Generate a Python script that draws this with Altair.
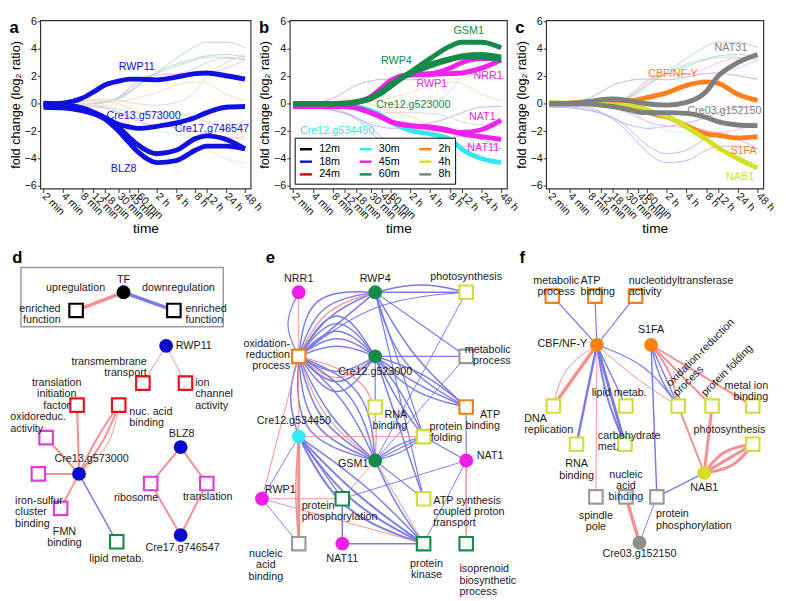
import altair as alt
import pandas as pd

# ---------------- time-course data (panels a-c) ----------------
TIMES = [2, 4, 8, 12, 18, 30, 45, 60, 120, 240, 480, 720, 1440, 2880]
TIME_LABELS = ["2 min", "4 min", "8 min", "12 min", "18 min", "30 min", "45 min",
               "60 min", "2 h", "4 h", "8 h", "12 h", "24 h", "48 h"]

CLUSTERS = ["12m", "18m", "24m", "30m", "45m", "60m", "2h", "4h", "8h"]
CLUSTER_COLORS = ["#000000", "#1010e0", "#e30000", "#36e7ef", "#f023ea", "#178a4b",
                  "#ff7f1e", "#d4e026", "#7f7f7f"]

GENE_NAMES = ["RWP11", "Cre13.g573000", "Cre17.g746547", "BLZ8",
              "Cre12.g534450", "RWP1", "NRR1", "NAT1", "NAT11",
              "GSM1", "RWP4", "Cre12.g523000",
              "CBF/NF-Y", "S1FA", "NAB1", "NAT31", "Cre03.g152150"]
GENE_CLUSTER = ["18m", "18m", "18m", "18m", "30m", "45m", "45m", "45m", "45m",
                "60m", "60m", "60m", "2h", "2h", "4h", "8h", "8h"]
GENE_PANEL = ["a"] * 4 + ["b"] * 8 + ["c"] * 5

FC_RWP11 = [0.0, 0.05, 0.4, 0.85, 1.35, 1.65, 1.8, 1.8, 1.75, 1.95, 2.2, 2.25, 2.05, 1.8]
FC_CRE13 = [-0.1, -0.2, -0.45, -0.7, -1.0, -1.5, -1.7, -1.8, -1.65, -1.4, -1.0, -0.65, -0.25, -0.2]
FC_CRE17 = [0.05, -0.05, -0.3, -0.6, -1.0, -1.7, -2.5, -3.0, -3.65, -3.4, -2.55, -2.35, -2.6, -3.3]
FC_BLZ8 = [-0.25, -0.3, -0.5, -0.7, -1.1, -2.0, -2.9, -3.5, -4.3, -4.15, -3.4, -3.1, -3.1, -3.3]
FC_CRE12B = [0.0, 0.0, 0.0, -0.05, -0.2, -0.5, -0.9, -1.3, -1.95, -2.2, -2.6, -3.3, -4.0, -4.3]
FC_RWP1 = [-0.1, -0.1, -0.1, -0.05, 0.1, 0.5, 1.2, 1.7, 2.15, 2.2, 2.6, 3.0, 3.3, 3.3]
FC_NRR1 = [-0.1, -0.1, -0.1, -0.05, 0.1, 0.45, 1.1, 1.6, 2.1, 2.15, 2.2, 2.25, 2.6, 3.2]
FC_NAT1 = [-0.2, -0.2, -0.2, -0.2, -0.3, -0.65, -1.0, -1.3, -1.6, -1.75, -2.0, -2.1, -1.9, -1.2]
FC_NAT11 = [-0.2, -0.2, -0.2, -0.2, -0.3, -0.65, -1.0, -1.3, -1.6, -1.7, -1.95, -2.2, -2.4, -2.6]
FC_GSM1 = [0.0, 0.0, 0.0, 0.0, 0.1, 0.35, 0.8, 1.25, 2.3, 3.3, 4.2, 4.5, 4.5, 4.1]
FC_RWP4 = [0.0, 0.0, 0.0, 0.0, 0.1, 0.4, 0.9, 1.4, 2.3, 2.9, 3.3, 3.5, 3.6, 3.4]
FC_CRE12A = [0.0, 0.0, 0.0, 0.05, 0.15, 0.45, 0.95, 1.4, 2.2, 2.75, 3.2, 3.4, 3.4, 3.2]
FC_CBF = [0.0, 0.05, 0.15, 0.25, 0.25, 0.2, 0.3, 0.45, 0.8, 1.35, 1.6, 1.5, 0.7, 0.25]
FC_S1FA = [0.0, 0.05, 0.15, 0.2, 0.15, 0.0, -0.3, -0.6, -0.95, -1.6, -2.2, -2.3, -2.5, -2.4]
FC_NAB1 = [0.1, 0.05, 0.0, -0.05, -0.1, -0.1, -0.2, -0.45, -0.9, -1.7, -2.6, -3.2, -4.0, -4.7]
FC_NAT31 = [0.0, 0.0, 0.15, 0.3, 0.35, 0.25, 0.1, 0.0, -0.1, 0.1, 0.9, 2.0, 3.0, 3.6]
FC_CRE03 = [0.0, 0.0, 0.0, -0.1, -0.2, -0.4, -0.6, -0.65, -0.65, -0.7, -1.0, -1.3, -1.55, -1.6]
GENE_VALUES = [FC_RWP11, FC_CRE13, FC_CRE17, FC_BLZ8, FC_CRE12B, FC_RWP1, FC_NRR1,
               FC_NAT1, FC_NAT11, FC_GSM1, FC_RWP4, FC_CRE12A, FC_CBF, FC_S1FA,
               FC_NAB1, FC_NAT31, FC_CRE03]

TOP_LABEL_GENE = ["RWP11", "Cre13.g573000", "Cre17.g746547", "BLZ8",
                  "GSM1", "RWP4", "NRR1", "RWP1", "Cre12.g523000", "NAT1", "NAT11", "Cre12.g534450",
                  "NAT31", "CBF/NF-Y", "Cre03.g152150", "S1FA", "NAB1"]
TOP_LABEL_T = [58, 74, 870, 36, 925, 74, 1830, 256, 134, 1490, 1540, 9.3, 1135, 150, 905, 1770, 1570]
TOP_LABEL_V = [2.7, -0.9, -1.85, -4.78, 5.34, 3.1, 2.05, 1.46, -0.07, -1.0, -3.25, -2.0,
               4.05, 2.16, -0.5, -3.48, -5.36]


def lighten(hexcol, keep=0.3):
    r, g, b = (int(hexcol[i:i + 2], 16) for i in (1, 3, 5))
    mix = [round(c * keep + 255 * (1 - keep)) for c in (r, g, b)]
    return "#%02x%02x%02x" % tuple(mix)


col_of = dict(zip(CLUSTERS, CLUSTER_COLORS))
rows = []
for g, cl, p, vals in zip(GENE_NAMES, GENE_CLUSTER, GENE_PANEL, GENE_VALUES):
    for t, v in zip(TIMES, vals):
        rows.append({"gene": g, "cluster": cl, "hex": col_of[cl], "pale": lighten(col_of[cl]),
                     "panel": p, "t": t, "v": v})
ts = pd.DataFrame(rows)
gpanel = dict(zip(GENE_NAMES, GENE_PANEL))
gcl = dict(zip(GENE_NAMES, GENE_CLUSTER))
lab = pd.DataFrame({"gene": TOP_LABEL_GENE, "t": TOP_LABEL_T, "v": TOP_LABEL_V})
lab["panel"] = lab["gene"].map(gpanel)
lab["hex"] = lab["gene"].map(lambda g: col_of[gcl[g]])

label_expr = "[" + ",".join("'%s'" % s for s in TIME_LABELS) + "][indexof([" + \
    ",".join(str(t) for t in TIMES) + "], datum.value)]"


def line_panel(pid, width, legend):
    xe = alt.X("t:Q", scale=alt.Scale(type="log", domain=[1.78, 3530], nice=False),
               axis=alt.Axis(values=TIMES, labelExpr=label_expr, labelAngle=45, labelAlign="left",
                             labelBaseline="middle", labelPadding=2, tickSize=4, domain=False,
                             grid=False, labelOverlap=False, labelFontSize=11, title="time",
                             titleFontSize=14, titleFontWeight="normal", titlePadding=1,
                             labelColor="#111", tickColor="#333"))
    ye = alt.Y("v:Q", scale=alt.Scale(domain=[-6.2, 6.1], nice=False, zero=False),
               axis=alt.Axis(values=[-6, -4, -2, 0, 2, 4, 6], title="fold change (log₂ ratio)",
                             titleFontSize=13, titleFontWeight="normal", titlePadding=2,
                             labelPadding=1, tickSize=3, domain=False, grid=False,
                             labelFontSize=11, labelColor="#111", tickColor="#333"))
    faint = alt.Chart(ts[ts["panel"] != pid]).mark_line(
        strokeWidth=1, interpolate="monotone").encode(
        x=xe, y=ye, color=alt.Color("pale:N", scale=None), detail="gene:N")
    if legend:
        leg = alt.Legend(orient="bottom-left", columns=3, title=None, symbolType="stroke",
                         symbolStrokeWidth=2.5, symbolSize=150, labelFontSize=11,
                         strokeColor="black", fillColor="white", padding=4, offset=5,
                         columnPadding=14, rowPadding=0, symbolOpacity=1, labelColor="#000",
                         labelOffset=6)
    else:
        leg = None
    thick = alt.Chart(ts[ts["panel"] == pid]).mark_line(
        strokeWidth=5, interpolate="monotone").encode(
        x=xe, y=ye,
        color=alt.Color("cluster:N", scale=alt.Scale(domain=CLUSTERS, range=CLUSTER_COLORS), legend=leg),
        detail="gene:N")
    txt = alt.Chart(lab[lab["panel"] == pid]).mark_text(fontSize=11).encode(
        x=xe, y=ye, text="gene:N", color=alt.Color("hex:N", scale=None))
    return alt.layer(faint, thick, txt).properties(
        width=width, height=172,
        title=alt.TitleParams(pid, anchor="start", frame="bounds", fontSize=17, fontWeight="bold",
                              offset=-22, color="#000"),
        view=alt.ViewBackground(stroke="#333333", strokeWidth=1.2))


pa = line_panel("a", 215, False)
pb = line_panel("b", 222, True)
pc = line_panel("c", 222, False)
top = alt.hconcat(pa, pb, pc, spacing=40, bounds="flush").resolve_scale(color="independent")

# ---------------- network data (panels d-f) ----------------
BLUE, MAG, GREEN, CYAN = "#0b0bd0", "#f01ee6", "#178a4a", "#30ecf2"
ORANGE, YELLOW, GRAY = "#f7810f", "#d5df22", "#8e8e8e"
SQ_RED, SQ_MAG, SQ_GREEN = "#e3121b", "#e23ae0", "#1d8a48"
SQ_ORANGE, SQ_YELLOW, SQ_GRAY = "#f07f18", "#d3dc3c", "#9a9a9a"
EDGE_UP, EDGE_DOWN = "#f38a8a", "#7474e6"

NODE_ID = ["dTF", "dUpF", "dDnF", "RWP11", "d_tm", "d_ion", "d_tif", "d_nuc", "d_oxi", "Cre13",
           "d_fes", "d_fmn", "d_lip", "BLZ8", "d_rib", "d_trl", "Cre17",
           "NRR1", "RWP4", "e_pho", "e_oxr", "Cre12a", "e_met", "e_rna", "e_atpb", "Cre12b",
           "e_fold", "GSM1", "NAT1", "RWP1", "e_phos", "e_atps", "e_nab", "NAT11", "e_kin", "e_iso",
           "CBF", "S1FA", "NAB1", "Cre03", "f_met", "f_atpb", "f_nuc", "f_dna", "f_lip", "f_oxr",
           "f_fold", "f_metal", "f_rna", "f_carb", "f_pho", "f_spi", "f_nab", "f_phos"]
NODE_X = [119, 70, 171, 163, 139, 183, 71, 114, 39, 73, 31, 54, 112, 178, 147, 205, 178,
          300, 379, 473, 300, 379, 473, 379, 473, 300, 429, 379, 473, 262, 345, 429, 300, 345, 429, 473,
          608, 664, 719, 652, 562, 606, 648, 563, 638, 692, 727, 769, 587, 637, 769, 607, 638, 670]
NODE_Y = [293, 312, 312, 349, 388, 388, 411, 411, 445, 483, 483, 519, 554, 455, 493, 493, 547,
          293, 293, 293, 360, 360, 360, 413, 413, 444, 444, 469, 469, 509, 509, 509, 556, 556, 556, 556,
          348, 348, 482, 555, 297, 297, 297, 412, 412, 412, 412, 412, 452, 452, 452, 507, 507, 507]
NODE_KIND = ["tf", "fn", "fn", "tf", "fn", "fn", "fn", "fn", "fn", "tf", "fn", "fn", "fn", "tf", "fn", "fn", "tf",
             "tf", "tf", "fn", "fn", "tf", "fn", "fn", "fn", "tf", "fn", "tf", "tf", "tf", "fn", "fn", "fn", "tf", "fn", "fn",
             "tf", "tf", "tf", "tf", "fn", "fn", "fn", "fn", "fn", "fn", "fn", "fn", "fn", "fn", "fn", "fn", "fn", "fn"]
NODE_COLOR = ["#000000", "#000000", "#000000", BLUE, SQ_RED, SQ_RED, SQ_RED, SQ_RED, SQ_MAG, BLUE,
              SQ_MAG, SQ_MAG, SQ_GREEN, BLUE, SQ_MAG, SQ_MAG, BLUE,
              MAG, GREEN, SQ_YELLOW, SQ_ORANGE, GREEN, SQ_GRAY, SQ_YELLOW, SQ_ORANGE, CYAN,
              SQ_YELLOW, GREEN, MAG, MAG, SQ_GREEN, SQ_YELLOW, SQ_GRAY, MAG, SQ_GREEN, SQ_GREEN,
              ORANGE, ORANGE, YELLOW, GRAY, SQ_ORANGE, SQ_ORANGE, SQ_ORANGE, SQ_YELLOW, SQ_YELLOW,
              SQ_YELLOW, SQ_YELLOW, SQ_YELLOW, SQ_YELLOW, SQ_YELLOW, SQ_YELLOW, SQ_GRAY, SQ_GRAY, SQ_GRAY]

# edges: source, target, up/down, width, bend
EDGES = [
    ("dTF", "dUpF", "up", 3.5, 0), ("dTF", "dDnF", "down", 3.5, 0),
    ("RWP11", "d_tm", "up", 1, 0), ("RWP11", "d_ion", "up", 1, 0),
    ("Cre13", "d_tif", "up", 2, 0), ("Cre13", "d_nuc", "up", 2, 0.08), ("Cre13", "d_nuc", "up", 2, -0.04),
    ("Cre13", "d_nuc", "up", 1, 0.18),
    ("Cre13", "d_oxi", "up", 2, 0), ("Cre13", "d_fes", "up", 2, 0), ("Cre13", "d_fmn", "up", 2, 0),
    ("Cre13", "d_lip", "down", 1.5, 0),
    ("BLZ8", "d_rib", "up", 2, 0), ("BLZ8", "d_trl", "up", 2, 0),
    ("Cre17", "d_rib", "up", 2, 0), ("Cre17", "d_trl", "up", 2, 0),
    # panel e
    ("e_oxr", "Cre12a", "down", 1.5, -0.2), ("e_oxr", "Cre12a", "down", 1.5, -0.35),
    ("e_oxr", "Cre12a", "down", 1.5, -0.5), ("e_oxr", "Cre12a", "down", 1.5, -0.65),
    ("e_oxr", "Cre12a", "down", 1.5, -0.8), ("e_oxr", "Cre12a", "down", 1.5, 0.3),
    ("e_oxr", "Cre12a", "down", 1.5, 0.5), ("e_oxr", "Cre12a", "down", 1.5, 0.7),
    ("e_oxr", "Cre12a", "up", 1.2, 0.42),
    ("e_oxr", "RWP4", "down", 1.5, 0), ("e_oxr", "RWP4", "down", 1.5, -0.15),
    ("e_oxr", "RWP4", "down", 1.5, -0.3), ("e_oxr", "RWP4", "down", 1.5, -0.45),
    ("e_oxr", "RWP4", "up", 1.2, -0.22),
    ("e_oxr", "GSM1", "down", 1.5, 0.1), ("e_oxr", "GSM1", "down", 1.5, 0.2),
    ("e_oxr", "GSM1", "down", 1.5, 0.3), ("e_oxr", "GSM1", "down", 1.5, 0.4),
    ("e_oxr", "GSM1", "down", 1.5, -0.1), ("e_oxr", "GSM1", "down", 1.5, -0.2),
    ("e_oxr", "GSM1", "down", 1.5, -0.3), ("e_oxr", "GSM1", "up", 1.2, 0.15),
    ("e_oxr", "GSM1", "up", 1.2, -0.4),
    ("e_oxr", "Cre12b", "down", 1.5, 0.15), ("e_oxr", "Cre12b", "up", 1, 0),
    ("NRR1", "e_oxr", "up", 1, 0), ("NRR1", "e_oxr", "down", 1.2, 0.25),
    ("e_oxr", "RWP1", "up", 1, 0), ("e_oxr", "e_pho", "down", 1.2, -0.15),
    ("RWP4", "e_pho", "down", 1.5, -0.12), ("RWP4", "e_pho", "down", 1.5, 0),
    ("RWP4", "e_met", "down", 1.2, 0), ("RWP4", "e_atpb", "down", 1.5, 0.08),
    ("RWP4", "e_atpb", "down", 1.5, 0.2), ("RWP4", "e_fold", "down", 1.2, 0),
    ("RWP4", "e_atps", "down", 1.2, 0),
    ("Cre12a", "e_met", "down", 1.2, 0), ("Cre12a", "e_rna", "down", 1.2, 0),
    ("Cre12a", "e_atpb", "down", 1.5, -0.1), ("Cre12a", "e_atpb", "down", 1.5, 0.05),
    ("Cre12a", "e_atpb", "down", 1.5, 0.15), ("Cre12a", "e_fold", "down", 1.5, 0.05),
    ("Cre12a", "e_fold", "down", 1.5, -0.05), ("Cre12a", "e_atps", "down", 1.5, 0),
    ("GSM1", "e_fold", "down", 1.2, -0.1), ("GSM1", "e_fold", "down", 1.2, 0),
    ("GSM1", "e_fold", "down", 1.2, 0.1), ("GSM1", "e_met", "down", 1, 0),
    ("GSM1", "e_pho", "down", 1, 0), ("GSM1", "e_atps", "down", 1.2, 0),
    ("GSM1", "e_kin", "down", 1.5, 0.05), ("GSM1", "e_kin", "up", 1, 0),
    ("GSM1", "e_phos", "up", 1, 0),
    ("Cre12b", "e_kin", "down", 2, 0.05), ("Cre12b", "e_kin", "down", 2, 0.12),
    ("Cre12b", "e_kin", "down", 2, 0.2), ("Cre12b", "e_kin", "down", 1.5, -0.05),
    ("Cre12b", "e_phos", "down", 1.2, 0), ("Cre12b", "e_fold", "up", 1, 0),
    ("Cre12b", "e_nab", "up", 3, 0), ("Cre12b", "e_nab", "up", 1.5, 0.04),
    ("RWP1", "e_phos", "up", 1, 0), ("RWP1", "e_kin", "up", 1, 0),
    ("RWP1", "e_nab", "down", 1, 0), ("RWP1", "Cre12b", "down", 1, 0),
    ("NAT1", "e_atpb", "down", 1.2, 0), ("NAT1", "e_fold", "down", 1.2, 0),
    ("NAT1", "e_phos", "down", 1, 0), ("NAT1", "e_kin", "down", 1, 0),
    ("NAT1", "e_iso", "up", 1.5, 0),
    ("NAT11", "e_phos", "down", 1.5, 0), ("NAT11", "e_kin", "down", 1.5, 0),
    # panel f
    ("CBF", "f_met", "down", 1.2, 0), ("CBF", "f_atpb", "down", 1.2, 0), ("CBF", "f_nuc", "down", 1.2, 0),
    ("CBF", "f_dna", "up", 3.5, 0), ("CBF", "f_dna", "up", 1, 0.2),
    ("CBF", "f_rna", "down", 2.5, 0), ("CBF", "f_carb", "down", 3, 0), ("CBF", "f_carb", "down", 2, 0.06),
    ("CBF", "f_lip", "down", 1.5, 0), ("CBF", "f_spi", "up", 1, 0),
    ("CBF", "f_oxr", "down", 1.2, -0.15), ("CBF", "f_oxr", "up", 1, 0.04),
    ("S1FA", "f_oxr", "down", 1.5, 0), ("S1FA", "f_oxr", "down", 1.5, 0.1),
    ("S1FA", "f_oxr", "up", 2, -0.12), ("S1FA", "f_fold", "up", 2, 0),
    ("S1FA", "f_metal", "up", 2, 0), ("S1FA", "f_phos", "down", 1.5, 0),
    ("NAB1", "f_oxr", "up", 2, 0), ("NAB1", "f_fold", "up", 3, 0),
    ("NAB1", "f_pho", "up", 3, -0.2), ("NAB1", "f_pho", "up", 3, 0), ("NAB1", "f_pho", "up", 3, 0.2),
    ("NAB1", "f_phos", "down", 1.5, 0),
    ("Cre03", "f_nab", "up", 3.5, 0), ("Cre03", "f_phos", "down", 1, 0),
]

LABELS = [
    ("TF", 119, 280, "center"), ("upregulation", 100, 289, "right"),
    ("downregulation", 138, 289, "left"), ("enriched\nfunction", 54, 310.5, "right"),
    ("enriched\nfunction", 183, 310.5, "left"), ("RWP11", 173, 349, "left"),
    ("transmembrane\ntransport", 143, 365.5, "right"), ("ion\nchannel\nactivity", 193, 388, "left"),
    ("translation\ninitiation\nfactor", 50, 388, "center"), ("nuc. acid\nbinding", 125, 418, "left"),
    ("oxidoreduc.\nactivity", 2, 424, "left"), ("Cre13.g573000", 86, 467, "center"),
    ("iron-sulfur\ncluster\nbinding", 7, 511.5, "left"), ("FMN\nbinding", 58, 543.5, "center"),
    ("lipid metab.", 112, 572, "center"), ("BLZ8", 179, 441, "center"),
    ("ribosome", 132, 508, "center"), ("translation", 206, 507, "center"),
    ("Cre17.g746547", 180, 561, "center"),
    ("NRR1", 300, 279, "center"), ("RWP4", 379, 279, "center"), ("photosynthesis", 473, 277, "center"),
    ("oxidation-\nreduction\nprocess", 291, 347, "right"), ("Cre12.g523000", 379, 376, "center"),
    ("metabolic\nprocess", 519, 353, "right"), ("RNA\nbinding", 412, 421.5, "right"),
    ("ATP\nbinding", 508, 421, "right"), ("Cre12.g534450", 295, 428, "center"),
    ("protein\nfolding", 469, 434, "right"), ("GSM1", 372, 473, "right"), ("NAT1", 484, 464, "left"),
    ("RWP1", 265, 500, "left"), ("protein\nphosphorylation", 303, 516.5, "left"),
    ("ATP synthesis\ncoupled proton\ntransport", 439, 511, "left"),
    ("nucleic\nacid\nbinding", 266, 567, "center"), ("NAT11", 345, 572, "center"),
    ("protein\nkinase", 432, 577, "center"), ("isoprenoid\nbiosynthetic\nprocess", 466, 583, "left"),
    ("metabolic\nprocess", 566, 281, "center"), ("ATP\nbinding", 591, 281, "left"),
    ("nucleotidyltransferase\nactivity", 641, 281, "left"), ("CBF/NF-Y", 598, 347, "right"),
    ("S1FA", 664, 333, "center"), ("DNA\nreplication", 533, 425.5, "left"),
    ("lipid metab.", 631, 398, "center"), ("metal ion\nbinding", 785, 391, "right"),
    ("RNA\nbinding", 587, 473, "center"), ("carbohydrate\nmet.", 609, 443, "left"),
    ("photosynthesis", 782, 437, "right"), ("NAB1", 719, 498, "center"),
    ("spindle\npole", 607, 527, "center"), ("nucleic\nacid\nbinding", 638, 484, "center"),
    ("protein\nphosphorylation", 669, 525.5, "left"), ("Cre03.g152150", 652, 567, "center"),
]
ROT_LABELS = [("oxidation-reduction", 682, 390), ("process", 689, 400), ("protein folding", 718, 400)]

LETTERS = ["d", "e", "f"]
LETTER_X = [4, 266, 528]
LETTER_Y = [262, 262, 262]

LEGEND_BOX = {"x": [13], "x2": [222], "y": [267], "y2": [329]}

nodes = pd.DataFrame({"id": NODE_ID, "x": NODE_X, "y": NODE_Y, "kind": NODE_KIND, "col": NODE_COLOR})
pos = {i: (x, y) for i, x, y in zip(NODE_ID, NODE_X, NODE_Y)}
erows = []
for k, (s, t, kind, w, bend) in enumerate(EDGES):
    x1, y1 = pos[s]
    x2, y2 = pos[t]
    dx, dy = x2 - x1, y2 - y1
    cx, cy = (x1 + x2) / 2 - dy * bend, (y1 + y2) / 2 + dx * bend
    for i, (px, py) in enumerate([(x1, y1), (cx, cy), (x2, y2)]):
        erows.append({"eid": k, "i": i, "x": px, "y": py, "w": w,
                      "c": EDGE_UP if kind == "up" else EDGE_DOWN})
edges = pd.DataFrame(erows)
labels = pd.DataFrame(LABELS, columns=["text", "x", "y", "al"])
rot = pd.DataFrame(ROT_LABELS, columns=["text", "x", "y"])
letters = pd.DataFrame({"text": LETTERS, "x": LETTER_X, "y": LETTER_Y})

BX = alt.X("x:Q", scale=alt.Scale(domain=[33, 783], nice=False, zero=False), axis=None)
BY = alt.Y("y:Q", scale=alt.Scale(domain=[249, 597], nice=False, zero=False, reverse=True), axis=None)

box = alt.Chart(pd.DataFrame(LEGEND_BOX)).mark_rect(fill="white", stroke="#9a9a9a", strokeWidth=1.5).encode(
    x=BX, x2="x2:Q", y=BY, y2="y2:Q")
elines = alt.Chart(edges).mark_line(interpolate="basis", opacity=0.95).encode(
    x=BX, y=BY, detail="eid:N", order="i:Q",
    color=alt.Color("c:N", scale=None), strokeWidth=alt.StrokeWidth("w:Q", scale=None))
squares = alt.Chart(nodes[nodes["kind"] == "fn"]).mark_square(size=190, fill="white", strokeWidth=2.2, opacity=1).encode(
    x=BX, y=BY, stroke=alt.Stroke("col:N", scale=None))
circles = alt.Chart(nodes[nodes["kind"] == "tf"]).mark_circle(size=200, opacity=1).encode(
    x=BX, y=BY, color=alt.Color("col:N", scale=None))
text_layers = []
for al in ["left", "center", "right"]:
    text_layers.append(alt.Chart(labels[labels["al"] == al]).mark_text(
        align=al, baseline="middle", fontSize=11, lineBreak="\n", lineHeight=11.5, color="#1a1a1a").encode(
        x=BX, y=BY, text="text:N"))
rot_layer = alt.Chart(rot).mark_text(angle=315, align="left", baseline="middle", fontSize=11,
                                     color="#1a1a1a").encode(x=BX, y=BY, text="text:N")
letter_layer = alt.Chart(letters).mark_text(align="left", baseline="alphabetic", fontSize=17,
                                            fontWeight="bold", color="#000").encode(x=BX, y=BY, text="text:N")

bottom = alt.layer(box, elines, squares, circles, *text_layers, rot_layer, letter_layer).properties(
    width=742, height=340, view=alt.ViewBackground(strokeOpacity=0))

chart = alt.vconcat(top, bottom, spacing=12).properties(padding=0).configure(
    font="Liberation Sans").configure_view(stroke="#333333", strokeWidth=1.2)

chart.save("out.html", embed_options={"renderer": "svg", "actions": False})
